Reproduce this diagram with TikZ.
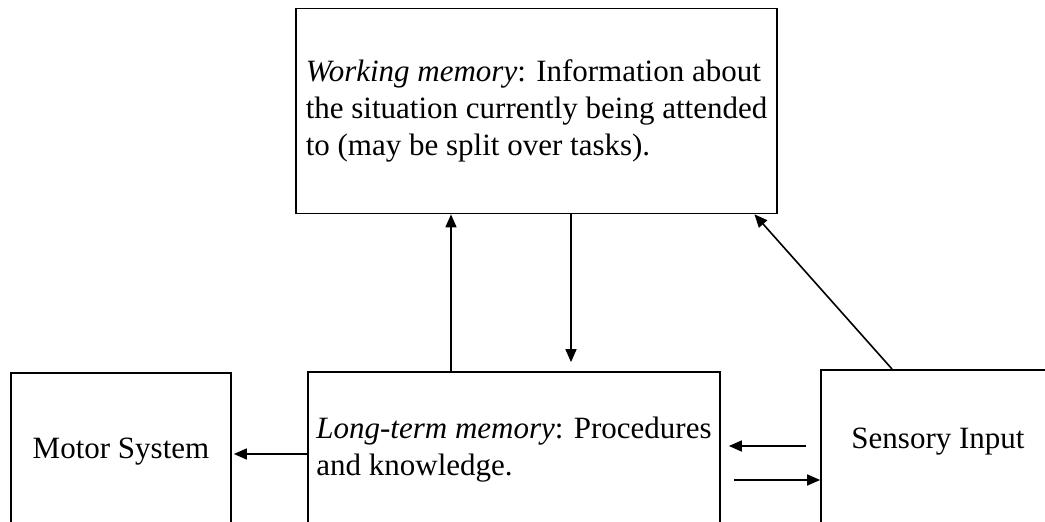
\documentclass[tikz,border=0pt]{standalone}
\usepackage{fontspec}
\setmainfont{Liberation Serif}
\usetikzlibrary{arrows.meta}
\tikzset{
    box/.style={draw, line width=1.7pt, inner sep=0pt},
    arr/.style={-{Triangle[length=13pt,width=11pt]}, line width=1.6pt},
}

\begin{document}
\begin{tikzpicture}[x=1pt, y=1pt, every node/.style={font=\fontsize{31}{37}\selectfont}]
    \useasboundingbox (0,0) rectangle (1045,522);
    \clip (0,0) rectangle (1045,522);

    \node[box, minimum width=481pt, minimum height=205pt, align=left] at (536.5,411) (wm) {\textit{Working memory}: Information about\\the situation currently being attended\\to (may be split over tasks).};
    \node[box, minimum width=412pt, minimum height=156pt, align=left] at (514,72) (ltm) {\textit{Long-term memory}: Procedures\\and knowledge.};
    \node[box, minimum width=220pt, minimum height=158pt] at (121,70) (motor) {Motor System};
    \node[box, minimum width=234pt, minimum height=170pt, anchor=north] at (938,153) (sensory) {};
    \node at (938,80) (sensorytext) {Sensory Input};

    \draw[arr] ([xshift=-63pt]ltm.north) -- ([xshift=-63pt]ltm.north |- wm.south);
    \draw[arr, shorten >=9pt] ([xshift=57pt]ltm.north |- wm.south) -- ([xshift=57pt]ltm.north);
    \draw[arr, shorten >=2pt] ([yshift=-4pt]ltm.west) -- ([yshift=-4pt]ltm.west -| motor.east);
    \draw[arr, shorten <=14pt, shorten >=8pt] ([yshift=4pt]ltm.east -| sensory.west) -- ([yshift=4pt]ltm.east);
    \draw[arr, shorten <=13pt] ([yshift=-30pt]ltm.east) -- ([yshift=-30pt]ltm.east -| sensory.west);
    \draw[arr] ([xshift=-46pt]sensory.north) -- ([xshift=218pt]wm.south);
\end{tikzpicture}
\end{document}
